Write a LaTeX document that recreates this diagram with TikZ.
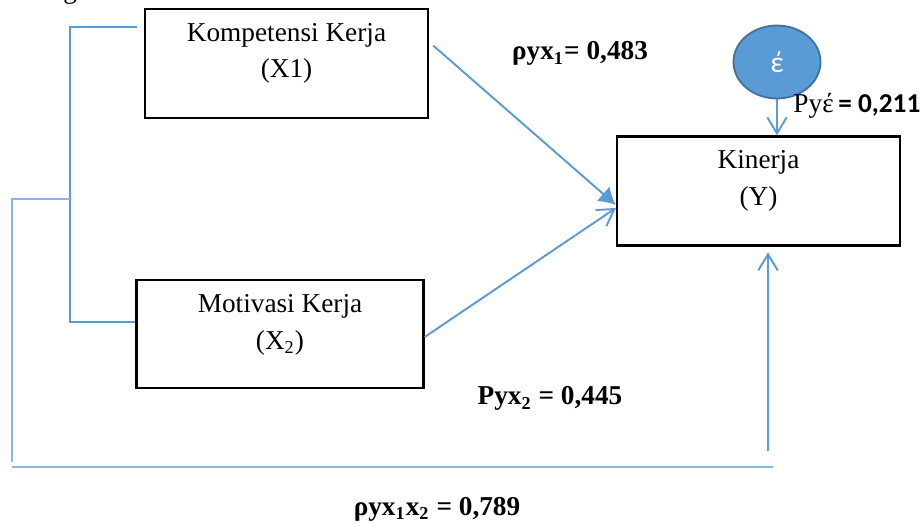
\documentclass[tikz,border=0pt]{standalone}
\usepackage{fontspec}
\setmainfont{Liberation Serif}
\newfontfamily\calibri{Carlito}
\usetikzlibrary{arrows.meta,calc,positioning,shapes.geometric}
\definecolor{pathBlue}{HTML}{5B9BD5}
\definecolor{lineBlue}{HTML}{8EB4E3}
\definecolor{errEdge}{HTML}{41719C}
\tikzset{
  >={Straight Barb[length=2.5mm,width=3mm]},
  every node/.style={font=\fontsize{12}{16}\selectfont},
  varbox/.style={draw=black, line width=1pt, inner sep=0pt},
  vartext/.style={align=center, inner sep=0pt},
  effect/.style={->, draw=pathBlue, line width=0.85pt},
  link/.style={draw=pathBlue, line width=0.85pt},
  faintlink/.style={draw=lineBlue, line width=0.7pt},
  coef/.style={font=\fontsize{12}{14}\selectfont\bfseries, anchor=base, inner sep=0pt},
  errnode/.style={ellipse, draw=errEdge, fill=pathBlue, line width=0.8pt, minimum width=38.3pt, minimum height=32.1pt, inner sep=0pt, text=white},
}
\begin{document}
\begin{tikzpicture}[x=0.44pt,y=-0.44pt]
  \useasboundingbox (0,0) rectangle (920,523);
  % cut caption letter on the top edge
  \node[anchor=base west, inner sep=0pt] (capg) at (63,-1) {g};

  % variable boxes
  \node[varbox, minimum width=124.5pt, minimum height=48pt] (komp) at (286.5,63.5) {};
  \node[vartext] (kompText) at ($(komp.center)+(0,-10)$) {Kompetensi Kerja\\(X1)};
  \node[varbox, minimum width=126.3pt, minimum height=47.5pt] (moti) at (280,334) {};
  \node[vartext] (motiText) at ($(moti.center)+(0,-9)$) {Motivasi Kerja\\(X\textsubscript{2})};
  \node[varbox, minimum width=124.5pt, minimum height=48pt] (kin) at (758.5,191) {};
  \node[vartext] (kinText) at ($(kin.center)+(0,-10)$) {Kinerja\\(Y)};
  \node[errnode] (eps) at (777,62) {\calibri\fontsize{13}{15}\selectfont έ};

  % correlation bracket and joint path
  \coordinate (split) at (70,199);
  \coordinate (loop) at (12,462);
  \coordinate (baseL) at (12,467);
  \coordinate (baseR) at (773,467);
  \coordinate (rise) at (768,451);
  \draw[link] ($(komp.north west)+(-7,19)$) -| (split) |- ($(moti.south west)+(0,-67)$);
  \draw[faintlink] (split) -| (loop);
  \draw[faintlink] (baseL) -- (baseR);
  \draw[effect, shorten >=2.5pt] (rise) -- (rise |- kin.south);

  % direct paths
  \draw[effect, >={Latex[length=2.6mm,width=3mm]}] ($(komp.east)+(4,-18)$) -- ($(kin.west)+(0,14)$);
  \draw[effect] ($(moti.east)+(0,3)$) -- ($(kin.west)+(0,17)$);
  \draw[effect] (eps.south) -- (eps.south |- kin.north);

  % coefficients
  \node[coef] (coefX1) at (580,60) {ρyx\textsubscript{1}= 0,483};
  \node[coef] (coefX2) at (550,405) {Pyx\textsubscript{2} = 0,445};
  \node[coef] (coefX12) at (437,515) {ρyx\textsubscript{1}x\textsubscript{2} = 0,789};
  \node[anchor=base west, inner sep=0pt] (coefEps) at (793,113) {Pyέ\,{\calibri\bfseries = 0,211}};
\end{tikzpicture}
\end{document}
